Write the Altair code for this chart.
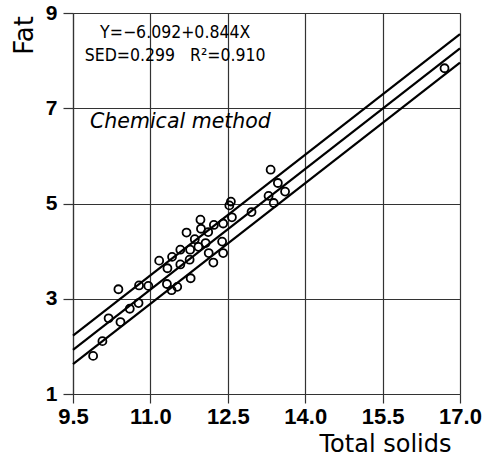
import altair as alt
import pandas as pd

# Observed data (Total solids, Fat)
total_solids = [9.89, 10.07, 10.19, 10.42, 10.38, 10.60, 10.77, 10.78, 10.96, 11.17,
                11.33, 11.32, 11.41, 11.52, 11.42, 11.58, 11.58, 11.76, 11.78, 11.70,
                11.77, 11.86, 11.93, 11.97, 11.98, 12.07, 12.12, 12.13, 12.22, 12.23,
                12.39, 12.41, 12.41, 12.56, 12.53, 12.58, 12.96, 13.33, 13.29, 13.47,
                13.39, 13.61, 16.70]
fat = [1.80, 2.11, 2.59, 2.51, 3.20, 2.79, 2.91, 3.28, 3.27, 3.80,
       3.64, 3.31, 3.18, 3.25, 3.88, 3.72, 4.03, 3.82, 3.43, 4.39,
       4.03, 4.25, 4.09, 4.66, 4.47, 4.17, 4.40, 3.96, 3.76, 4.55,
       4.20, 3.96, 4.58, 5.04, 4.96, 4.71, 4.82, 5.71, 5.16, 5.43,
       5.01, 5.25, 7.84]

# Regression: Y = -6.092 + 0.844X, SED = 0.299
intercept = -6.092
slope = 0.844
sed = 0.299
line_x = [9.5, 17.0]
offsets = {"upper": sed, "fit": 0.0, "lower": -sed}

x_ticks = [9.5, 11.0, 12.5, 14.0, 15.5, 17.0]
y_ticks = [1, 3, 5, 7, 9]

pts = pd.DataFrame({"x": total_solids, "y": fat})
rows = []
for name, off in offsets.items():
    for xv in line_x:
        rows.append({"x": xv, "y": intercept + slope * xv + off, "line": name})
lines_df = pd.DataFrame(rows)

GRID = "#333333"

x_scale = alt.Scale(domain=[9.5, 17.0], nice=False, zero=False)
y_scale = alt.Scale(domain=[1, 9], nice=False, zero=False)

x_axis = alt.Axis(values=x_ticks, format=".1f", title="Total solids",
                  labelFont="Liberation Sans", labelFontWeight="bold", labelFontSize=22,
                  labelColor="black", labelPadding=3, tickSize=9, tickColor=GRID,
                  grid=True, gridColor=GRID, gridOpacity=1, gridWidth=1.2,
                  domainColor=GRID, domainWidth=1.2, tickWidth=1.2,
                  titleFont="DejaVu Sans", titleFontSize=24, titleFontWeight="normal",
                  titleColor="black", titleX=312, titleY=57, titleAlign="center",
                  titleBaseline="alphabetic", labelFlush=False)
y_axis = alt.Axis(values=y_ticks, format="d", title="Fat",
                  labelFont="Liberation Sans", labelFontWeight="bold", labelFontSize=21,
                  labelColor="black", labelPadding=6, tickSize=10, tickColor=GRID,
                  grid=True, gridColor=GRID, gridOpacity=1, gridWidth=1.2,
                  domainColor=GRID, domainWidth=1.2, tickWidth=1.2,
                  titleFont="DejaVu Sans", titleFontSize=26, titleFontWeight="normal",
                  titleColor="black", titleX=-41, titleY=22, titleAlign="center",
                  titleBaseline="alphabetic", titleAngle=270, labelFlush=False)

base_lines = alt.Chart(lines_df).mark_line(color="black", strokeWidth=2.2).encode(
    x=alt.X("x:Q", scale=x_scale, axis=x_axis),
    y=alt.Y("y:Q", scale=y_scale, axis=y_axis),
    detail="line:N",
)

points = alt.Chart(pts).mark_point(shape="circle", filled=False, size=64,
                                   strokeWidth=1.8, color="black", opacity=1).encode(
    x="x:Q", y="y:Q"
)

one = alt.Data(values=[{"a": 1}])
eq_font = "Liberation Sans Narrow, DejaVu Sans Condensed, Roboto"
t1 = alt.Chart(one).mark_text(text="Y=−6.092+0.844X", font=eq_font, fontSize=17.5,
                              align="center", baseline="middle", color="black").encode(
    x=alt.datum(11.48), y=alt.datum(8.57))
t2 = alt.Chart(one).mark_text(text="SED=0.299\u00a0\u00a0\u00a0R²=0.910", font=eq_font,
                              fontSize=17.5, align="center", baseline="middle",
                              color="black").encode(
    x=alt.datum(11.48), y=alt.datum(8.09))
t3 = alt.Chart(one).mark_text(text="Chemical method", font="DejaVu Sans", fontSize=20.5,
                              fontStyle="italic", align="left", baseline="middle",
                              color="black").encode(
    x=alt.datum(9.83), y=alt.datum(6.72))

chart = alt.layer(base_lines, points, t1, t2, t3).properties(
    width=387, height=381,
    autosize=alt.AutoSizeParams(type="none"),
    padding={"left": 73, "top": 13, "right": 29, "bottom": 63},
    background="white",
).configure_view(stroke=None)

chart.save("out.html", embed_options={"renderer": "svg", "actions": False})
